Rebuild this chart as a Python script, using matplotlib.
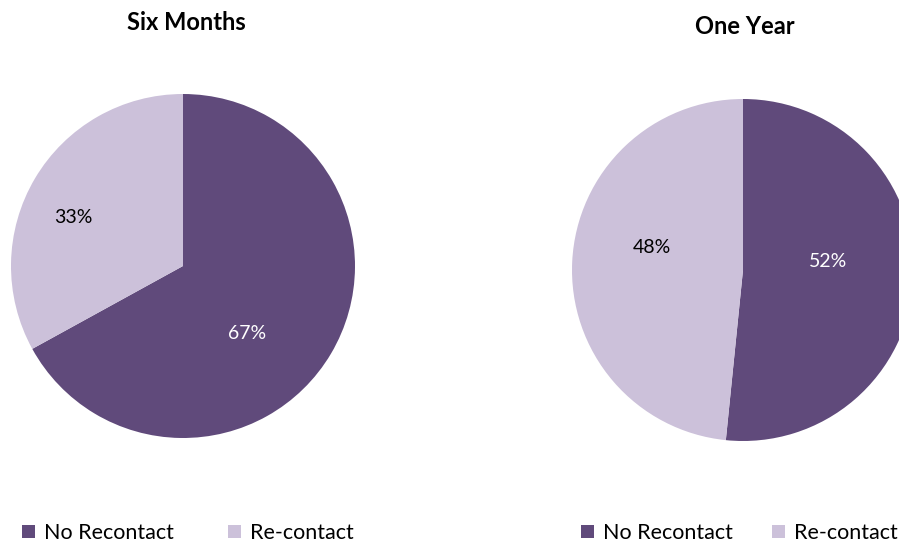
import matplotlib.pyplot as plt

plt.rcParams['font.family'] = ['Lato', 'DejaVu Sans']

categories = ['No Recontact', 'Re-contact']
six_months = [67, 33]
one_year = [51.6, 48.4]
titles = ['Six Months', 'One Year']

colors = ['#604A7B', '#CCC1DA']
text_colors = ['white', 'black']

W, H = 899, 545
fig = plt.figure(figsize=(W / 100, H / 100), dpi=100)

# pie centre / radius in pixels, label positions (axis units) Excel-style
pies = [
    dict(cx=183, cy=266, r=172, vals=six_months,
         lab=[(0.37, -0.39), (-0.64, 0.28)], title_x=186, title_y=23,
         leg_x=22, colsp=2.55),
    dict(cx=743, cy=270, r=171, vals=one_year,
         lab=[(0.50, 0.05), (-0.53, 0.13)], title_x=745, title_y=26,
         leg_x=581, colsp=1.85),
]

for p, title in zip(pies, titles):
    r = p['r']
    ax = fig.add_axes([(p['cx'] - r) / W, (H - p['cy'] - r) / H, 2 * r / W, 2 * r / H])
    wedges, texts, autotexts = ax.pie(
        p['vals'], colors=colors, startangle=90, counterclock=False,
        autopct='%.0f%%', pctdistance=0.55,
        wedgeprops=dict(linewidth=0), textprops=dict(fontsize=14))
    for t, pos, c in zip(autotexts, p['lab'], text_colors):
        t.set_position(pos)
        t.set_color(c)
    ax.set_xlim(-1, 1)
    ax.set_ylim(-1, 1)
    ax.set_aspect('auto')
    ax.axis('off')
    fig.text(p['title_x'] / W, 1 - p['title_y'] / H, title, ha='center', va='center',
             fontsize=17, fontweight='bold')

    fig.legend(wedges, categories, loc='center left',
               bbox_to_anchor=(p['leg_x'] / W, 1 - 533 / H), ncol=2, frameon=False,
               fontsize=15.5, handlelength=0.6, handleheight=0.6,
               handletextpad=0.4, columnspacing=p['colsp'], borderaxespad=0,
               borderpad=0)

fig.savefig('out.png', dpi=100)
